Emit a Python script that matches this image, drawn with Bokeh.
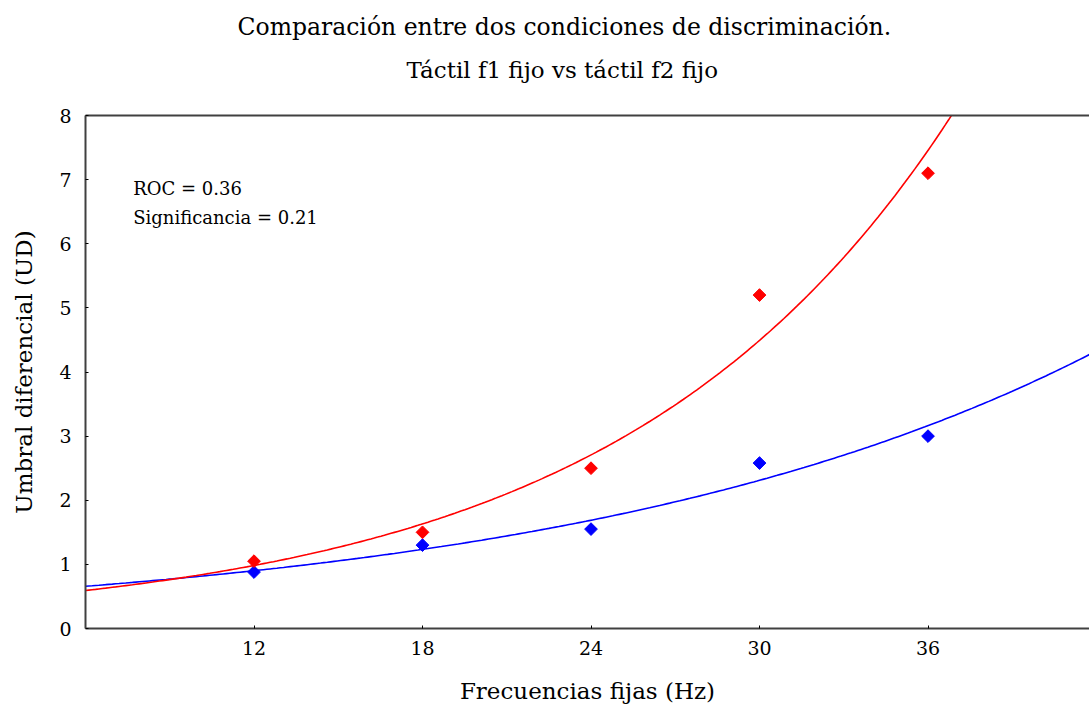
import numpy as np
from bokeh.plotting import figure
from bokeh.models import Range1d, FixedTicker, LinearAxis, Title, Label
from bokeh.embed import file_html
from bokeh.resources import INLINE

# Data
freqs = [12, 18, 24, 30, 36]
f1_fijo = [1.05, 1.50, 2.50, 5.20, 7.10]   # red
f2_fijo = [0.88, 1.30, 1.55, 2.58, 3.00]   # blue
x_ticks = [12, 18, 24, 30, 36]
y_ticks = [0, 1, 2, 3, 4, 5, 6, 7, 8]
title1 = "Comparación entre dos condiciones de discriminación."
title2 = "Táctil f1 fijo vs táctil f2 fijo"
annot1 = "ROC = 0.36"
annot2 = "Significancia = 0.21"

FONT = "DejaVu Serif"
X0, X1 = 6, 41.75

p = figure(width=1089, height=712, output_backend="svg", toolbar_location=None,
           x_range=Range1d(X0, X1), y_range=Range1d(0, 8),
           min_border_left=85, min_border_right=0, min_border_bottom=84,
           min_border_top=115)
p.outline_line_color = None
p.xgrid.visible = False
p.ygrid.visible = False
p.background_fill_color = "white"

xax = p.below[0]
yax = p.left[0]
for ax in (xax, yax):
    ax.axis_line_width = 2
    ax.axis_line_color = "#404040"
    ax.major_tick_in = 3
    ax.major_tick_out = 0
    ax.minor_tick_line_color = None
    ax.major_tick_line_color = "black"
    ax.major_label_text_font = FONT
    ax.major_label_text_font_size = "19px"
    ax.major_label_text_color = "black"
    ax.axis_label_text_font = FONT
    ax.axis_label_text_font_size = "23px"
    ax.axis_label_text_font_style = "normal"
    ax.axis_label_text_color = "black"

xax.ticker = FixedTicker(ticks=x_ticks)
yax.ticker = FixedTicker(ticks=y_ticks)
xax.axis_label = "Frecuencias fijas (Hz)"
yax.axis_label = "Umbral diferencial (UD)"
xax.major_label_standoff = 12
yax.major_label_standoff = 14
xax.axis_label_standoff = 20
yax.axis_label_standoff = 19

# top border as an axis without ticks/labels
top = LinearAxis(major_tick_line_color=None, minor_tick_line_color=None,
                 major_label_text_font_size="0px", axis_line_width=2,
                 axis_line_color="#404040", major_label_standoff=0)
top.ticker = FixedTicker(ticks=[])
p.add_layout(top, "above")

p.add_layout(Title(text=title2, align="left", offset=321, standoff=65, text_font=FONT,
                   text_font_size="23px", text_font_style="normal",
                   text_color="black"), "above")
p.add_layout(Title(text=title1, align="left", offset=152, standoff=-36, text_font=FONT,
                   text_font_size="23.5px", text_font_style="normal",
                   text_color="black"), "above")

# exponential fits from the data (log-linear least squares)
xs = np.linspace(X0, X1, 300)
for ys, color in ((f2_fijo, "#0000ff"), (f1_fijo, "#ff0000")):
    b, ln_a = np.polyfit(freqs, np.log(ys), 1)
    p.line(xs, np.exp(ln_a) * np.exp(b * xs), line_color=color, line_width=1.6)

p.scatter(freqs, f2_fijo, marker="square", angle=np.pi / 4, size=9,
          fill_color="#0000ff", line_color="#0000ff")
p.scatter(freqs, f1_fijo, marker="square", angle=np.pi / 4, size=9,
          fill_color="#ff0000", line_color="#ff0000")

p.add_layout(Label(x=7.7, y=7.02, text=annot1, text_font=FONT, text_font_size="18px",
                   text_baseline="top", text_color="black"))
p.add_layout(Label(x=7.7, y=6.57, text=annot2, text_font=FONT, text_font_size="18px",
                   text_baseline="top", text_color="black"))

open("out.html", "w").write(file_html(p, INLINE))
